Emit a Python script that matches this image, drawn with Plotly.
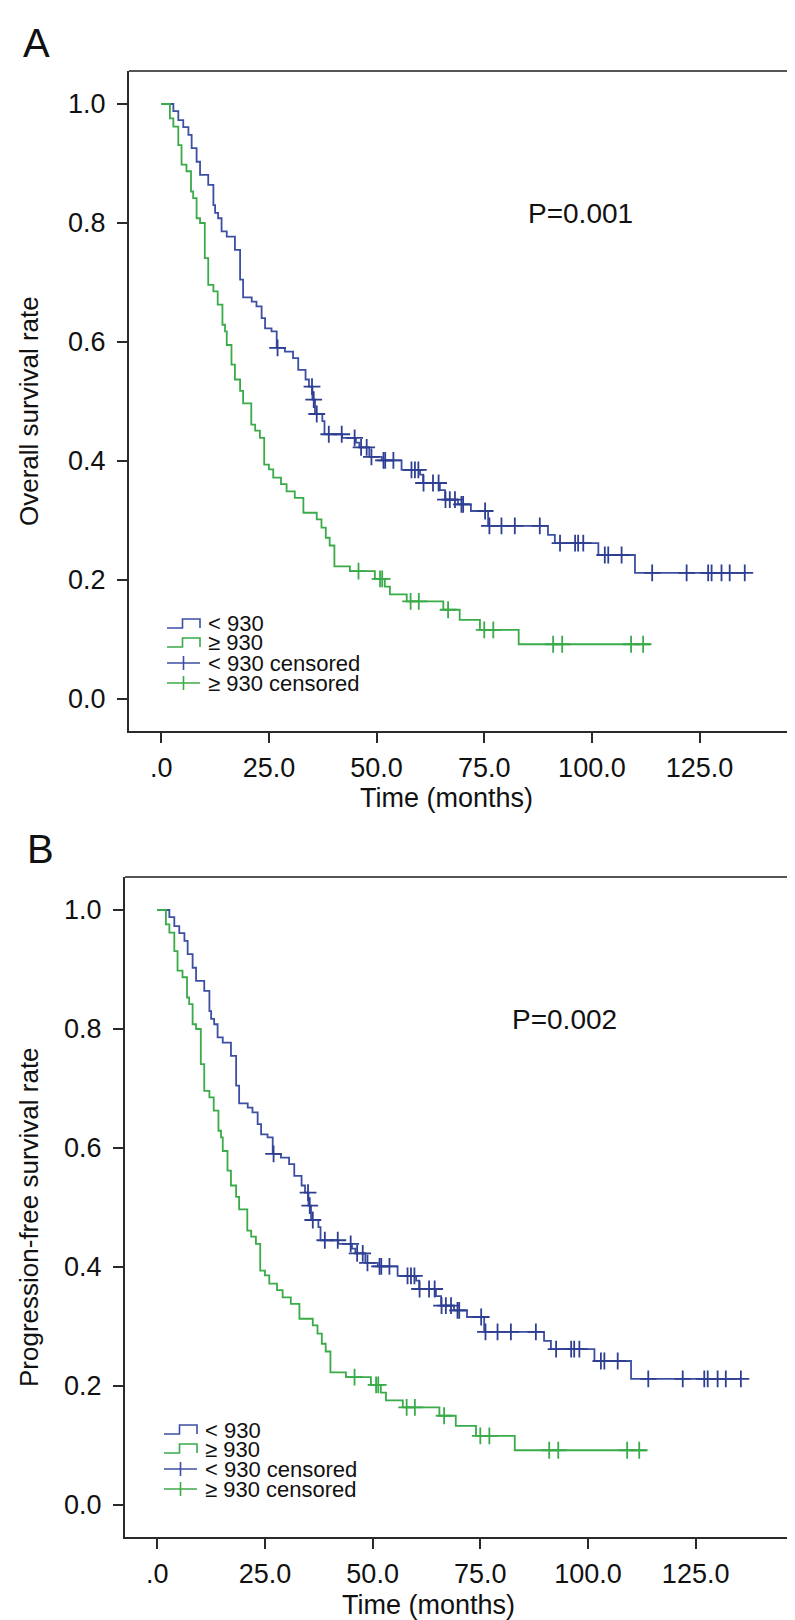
import plotly.graph_objects as go

# ---------------- data ----------------
# Panel A: overall survival, group "< 930"
os_low_t = [2.8, 3.95, 5.1, 6.3, 7.05, 8.2, 9.0, 10.9, 12.1, 12.5, 13.2, 14.0, 15.2, 17.1, 18.3,
            19.0, 21.0, 22.1, 23.3, 24.1, 25.6, 26.8, 28.7, 30.6, 31.8, 33.5, 34.3, 35.1, 35.7,
            37.4, 37.9, 42.0, 45.2, 46.0, 48.3, 51.2, 55.8, 60.1, 60.8, 64.7, 65.9, 68.9, 71.9,
            75.9, 89.8, 91.4, 101.5, 110.0]
os_low_s = [0.988, 0.973, 0.961, 0.948, 0.926, 0.903, 0.881, 0.864, 0.830, 0.817, 0.808, 0.786,
            0.777, 0.755, 0.705, 0.675, 0.668, 0.660, 0.640, 0.623, 0.618, 0.590, 0.584, 0.573,
            0.553, 0.537, 0.525, 0.503, 0.479, 0.467, 0.445, 0.439, 0.431, 0.423, 0.407, 0.401,
            0.385, 0.377, 0.363, 0.351, 0.335, 0.327, 0.316, 0.291, 0.276, 0.262, 0.242, 0.212]
os_low_cens = [27.0, 35.0, 35.4, 36.1, 38.9, 41.9, 44.9, 46.4, 47.7, 48.8, 51.6, 52.0, 53.9,
               58.1, 58.9, 59.7, 60.9, 63.1, 64.4, 66.0, 67.0, 68.2, 69.7, 70.1, 75.2, 76.2,
               79.0, 82.1, 87.9, 92.6, 96.1, 96.8, 98.0, 103.0, 103.8, 106.9, 114.0, 122.0,
               127.0, 127.8, 130.1, 132.0, 135.5]
os_low_end = 135.5

# Panel A: overall survival, group ">= 930"
os_high_t = [2.0, 2.8, 3.95, 4.7, 5.85, 6.9, 7.4, 8.2, 9.0, 10.1, 10.9, 12.1, 13.1, 14.2, 14.8,
             15.2, 16.3, 17.1, 18.3, 19.0, 20.9, 21.8, 22.9, 23.9, 25.0, 26.0, 27.8, 29.1, 31.0,
             33.0, 36.1, 37.2, 38.2, 39.1, 40.2, 43.8, 49.6, 51.9, 53.1, 57.0, 65.5, 69.3, 74.0,
             83.0]
os_high_s = [0.976, 0.962, 0.931, 0.898, 0.887, 0.853, 0.842, 0.808, 0.800, 0.741, 0.696, 0.685,
             0.663, 0.629, 0.618, 0.595, 0.562, 0.537, 0.518, 0.497, 0.461, 0.451, 0.439, 0.394,
             0.386, 0.372, 0.361, 0.349, 0.338, 0.313, 0.302, 0.288, 0.271, 0.258, 0.223, 0.215,
             0.202, 0.189, 0.176, 0.164, 0.150, 0.133, 0.116, 0.092]
os_high_cens = [45.8, 50.8, 51.3, 57.9, 59.8, 66.6, 75.0, 77.1, 91.0, 93.1, 109.1, 111.9]
os_high_end = 113.5

# Panel B: progression-free survival (curves read as the same as panel A)
pfs_low_t = list(os_low_t)
pfs_low_s = list(os_low_s)
pfs_low_cens = list(os_low_cens)
pfs_low_end = os_low_end
pfs_high_t = list(os_high_t)
pfs_high_s = list(os_high_s)
pfs_high_cens = list(os_high_cens)
pfs_high_end = os_high_end

x_tick_vals = [0, 25, 50, 75, 100, 125]
x_tick_text = [".0", "25.0", "50.0", "75.0", "100.0", "125.0"]
y_tick_vals = [0.0, 0.2, 0.4, 0.6, 0.8, 1.0]
y_tick_text = ["0.0", "0.2", "0.4", "0.6", "0.8", "1.0"]
legend_labels = ["< 930", "\u2265 930", "< 930 censored", "\u2265 930 censored"]

# ---------------- styling / layout ----------------
W, H = 795, 1620
BLUE = "#3d4fa3"
BLUE_C = "#2e3f92"
GREEN = "#3aab49"
FONT = "Liberation Sans, Arial, sans-serif"
TXT = "#111111"
AX = "#2a2a2a"
AX_LIGHT = "#555555"


def px(x):
    return x / W


def py(y):
    return 1 - y / H


def surv_at(times, survs, t):
    s = 1.0
    for ti, si in zip(times, survs):
        if ti <= t:
            s = si
    return s


fig = go.Figure()


def add_group(times, survs, cens, end, color, ccolor, xa, ya):
    xs = [0.0] + list(times) + [end]
    ys = [1.0] + list(survs) + [survs[-1]]
    fig.add_trace(go.Scatter(x=xs, y=ys, mode="lines", line=dict(color=color, width=1.8, shape="hv"),
                             xaxis=xa, yaxis=ya, showlegend=False, hoverinfo="skip"))
    cy = [surv_at(times, survs, c) for c in cens]
    fig.add_trace(go.Scatter(x=cens, y=cy, mode="markers",
                             marker=dict(symbol="cross-thin", size=12,
                                         line=dict(width=1.8, color=ccolor)),
                             xaxis=xa, yaxis=ya, showlegend=False, hoverinfo="skip"))


add_group(os_low_t, os_low_s, os_low_cens, os_low_end, BLUE, BLUE_C, "x", "y")
add_group(os_high_t, os_high_s, os_high_cens, os_high_end, GREEN, GREEN, "x", "y")
add_group(pfs_low_t, pfs_low_s, pfs_low_cens, pfs_low_end, BLUE, BLUE_C, "x2", "y2")
add_group(pfs_high_t, pfs_high_s, pfs_high_cens, pfs_high_end, GREEN, GREEN, "x2", "y2")

axis_common = dict(showgrid=False, zeroline=False, showline=True, mirror=False,
                   linecolor=AX, linewidth=2, ticks="outside", ticklen=10, tickwidth=2,
                   tickcolor=AX, tickfont=dict(family=FONT, size=27, color=TXT),
                   fixedrange=True)

panels = [
    # box left, right, top, bottom (px), x range
    dict(l=121, r=788, t=63, b=723, xr=[-7.5, 147.4]),
    dict(l=117, r=788, t=869, b=1529, xr=[-7.5, 148.3]),
]

layout = dict(width=W, height=H, margin=dict(l=0, r=0, t=0, b=0),
              paper_bgcolor="white", plot_bgcolor="white", showlegend=False)
for i, p in enumerate(panels):
    sfx = "" if i == 0 else str(i + 1)
    layout["xaxis" + sfx] = dict(axis_common, domain=[px(p["l"]), px(p["r"])], range=p["xr"],
                                 tickvals=x_tick_vals, ticktext=x_tick_text,
                                 ticklabelstandoff=2, anchor="y" + sfx)
    layout["yaxis" + sfx] = dict(axis_common, domain=[py(p["b"]), py(p["t"])],
                                 range=[-0.0538, 1.0555],
                                 tickvals=y_tick_vals, ticktext=y_tick_text,
                                 ticklabelstandoff=6, anchor="x" + sfx)
fig.update_layout(**layout)

annotations = []
shapes = []

# slightly lighter top and right frame lines
for i, p in enumerate(panels):
    sfx = "" if i == 0 else str(i + 1)
    shapes.append(dict(type="line", xref="x" + sfx + " domain", yref="y" + sfx + " domain",
                       x0=0, x1=1, y0=1, y1=1, line=dict(color=AX_LIGHT, width=2.2)))
    shapes.append(dict(type="line", xref="x" + sfx + " domain", yref="y" + sfx + " domain",
                       x0=1, x1=1, y0=0, y1=1, line=dict(color=AX_LIGHT, width=2.2)))


def text(x, y, s, size, xanchor="center", angle=0):
    annotations.append(dict(x=px(x), y=py(y), xref="paper", yref="paper", text=s,
                            showarrow=False, xanchor=xanchor, yanchor="middle",
                            textangle=angle, font=dict(family=FONT, size=size, color=TXT)))


panel_text = [
    dict(letter="A", lx=28, ly=35, ytitle="Overall survival rate", p="P=0.001", ppos=(572, 205),
         xt=(438, 790), dy=0, dx=0),
    dict(letter="B", lx=32, ly=841, ytitle="Progression-free survival rate", p="P=0.002",
         ppos=(556, 1011), xt=(420, 1597), dy=806, dx=-3),
]

for i, pt in enumerate(panel_text):
    p = panels[i]
    text(pt["lx"], pt["ly"], pt["letter"], 40)
    text(pt["xt"][0], pt["xt"][1], "Time (months)", 27)
    text(21, (p["t"] + p["b"]) / 2 + 10, pt["ytitle"], 26, angle=-90)
    text(pt["ppos"][0], pt["ppos"][1], pt["p"], 28)
    # legend
    rows = [616, 635, 655, 675]
    x0, x1 = 159 + pt["dx"], 192 + pt["dx"]
    xm = (x0 + x1) / 2
    for k, (lab, col) in enumerate(zip(legend_labels, [BLUE, GREEN, BLUE, GREEN])):
        yc = rows[k] + pt["dy"]
        text(x1 + 6, yc, lab, 22, xanchor="left")
        if k < 2:
            path = "M {} {} L {} {} L {} {} L {} {} L {} {}".format(
                px(x0), py(yc + 4), px(xm - 1), py(yc + 4), px(xm - 1), py(yc - 5),
                px(x1), py(yc - 5), px(x1), py(yc + 4))
            shapes.append(dict(type="path", path=path, xref="paper", yref="paper",
                               line=dict(color=col, width=1.6)))
        else:
            shapes.append(dict(type="line", xref="paper", yref="paper", x0=px(x0), x1=px(x1),
                               y0=py(yc), y1=py(yc), line=dict(color=col, width=1.6)))
            shapes.append(dict(type="line", xref="paper", yref="paper", x0=px(xm), x1=px(xm),
                               y0=py(yc - 7), y1=py(yc + 7), line=dict(color=col, width=1.6)))

fig.update_layout(annotations=annotations, shapes=shapes)
fig.write_html("out.html")
